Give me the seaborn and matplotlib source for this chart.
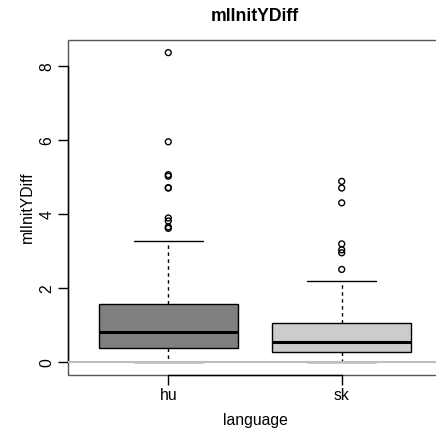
import matplotlib
matplotlib.use("Agg")
import matplotlib.pyplot as plt
from matplotlib.patches import Rectangle
import seaborn as sns
import pandas as pd

# ---- data ----
languages = ["hu", "sk"]
q1 = [0.39, 0.28]
medians = [0.83, 0.55]
q3 = [1.57, 1.05]
whisker_low = [0.01, 0.0]
whisker_high = [3.29, 2.19]
outliers_hu = [8.37, 5.96, 5.07, 5.03, 4.72, 4.71, 3.90, 3.82, 3.66, 3.62]
outliers_sk = [4.89, 4.71, 4.31, 3.20, 3.04, 2.96, 2.51]
box_colors = ["#808080", "#CCCCCC"]
y_ticks = [0, 2, 4, 6, 8]
title = "mlInitYDiff"
xlabel = "language"
ylabel = "mlInitYDiff"

sns.set_style("white")
plt.rcParams["font.family"] = ["Liberation Sans", "DejaVu Sans"]
plt.rcParams["text.color"] = "black"
plt.rcParams["axes.labelcolor"] = "black"
plt.rcParams["xtick.color"] = "black"
plt.rcParams["ytick.color"] = "black"

fig = plt.figure(figsize=(4.36, 4.30), dpi=100)
ax = fig.add_axes([67.7 / 436, 1 - 375 / 430, 374.6 / 436, 335 / 430])

positions = [1, 2]
stats = []
for i, lang in enumerate(languages):
    stats.append(dict(label=lang, q1=q1[i], med=medians[i], q3=q3[i],
                      whislo=whisker_low[i], whishi=whisker_high[i], fliers=[]))

bp = ax.bxp(stats, positions=positions, widths=0.8, patch_artist=True,
            showfliers=False,
            boxprops=dict(edgecolor="black", linewidth=1.0),
            medianprops=dict(color="black", linewidth=2.2),
            whiskerprops=dict(color="black", linewidth=1.0, linestyle=(0, (2.5, 2.5))),
            capprops=dict(color="black", linewidth=1.0),
            capwidths=0.4)
for patch, c in zip(bp["boxes"], box_colors):
    patch.set_facecolor(c)

out_df = pd.DataFrame({
    "pos": [1] * len(outliers_hu) + [2] * len(outliers_sk),
    "val": outliers_hu + outliers_sk,
})
sns.scatterplot(data=out_df, x="pos", y="val", ax=ax, marker="o",
                s=18, facecolor="none", edgecolor="black", linewidth=1.0,
                legend=False, zorder=5)

ax.axhline(0, color="#BEBEBE", linewidth=1.5, zorder=6)

ax.set_xlim(0.42, 2.58)
ax.set_ylim(-0.343, 8.711)
ax.set_xticks(positions)
ax.set_xticklabels(languages)
ax.set_yticks(y_ticks)
ax.set_yticklabels([str(t) for t in y_ticks], rotation=90, va="center")

ax.tick_params(axis="both", direction="out", length=7, width=1, color="black",
               labelsize=11.3, bottom=True, left=True, top=False, right=False)
ax.tick_params(axis="x", pad=2)
ax.tick_params(axis="y", pad=2.4)

# gray frame around the plot region
ax.add_patch(Rectangle((0, 0), 1, 1, transform=ax.transAxes, fill=False,
                       edgecolor="#555555", linewidth=1.0, clip_on=False, zorder=1))
for side in ["top", "right"]:
    ax.spines[side].set_visible(False)
# R-style axis lines spanning first to last tick
ax.spines["left"].set_visible(True)
ax.spines["bottom"].set_visible(True)
ax.spines["left"].set_color("black")
ax.spines["bottom"].set_color("black")
ax.spines["left"].set_linewidth(1.0)
ax.spines["bottom"].set_linewidth(1.0)
ax.spines["left"].set_bounds(y_ticks[0], y_ticks[-1])
ax.spines["bottom"].set_bounds(positions[0], positions[-1])

ax.set_xlabel(xlabel, fontsize=11.3, labelpad=7.5)
ax.set_ylabel(ylabel, fontsize=11.3, labelpad=3.5)
ax.set_title(title, fontsize=12.7, fontweight="bold", pad=14)

fig.savefig("out.png", dpi=100)
